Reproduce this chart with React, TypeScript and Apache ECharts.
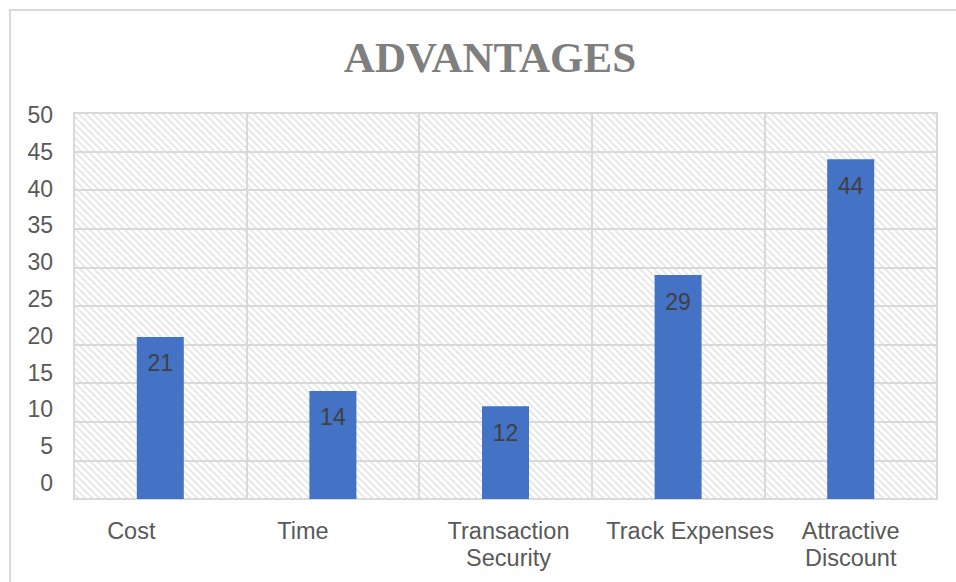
import React, { useEffect, useRef } from "react";
import * as echarts from "echarts";

const titleText = "ADVANTAGES";
const categories = ["Cost", "Time", "Transaction\nSecurity", "Track Expenses", "Attractive\nDiscount"];
const values = [21, 14, 12, 29, 44];
const yMin = 0;
const yMax = 50;
const yStep = 5;
// horizontal label shifts (px, negative = left), style only
const labelShift = [-29, -30, 3, 12, 0];

function makeHatch(): HTMLCanvasElement {
  const c = document.createElement("canvas");
  const s = 7;
  c.width = s;
  c.height = s;
  const ctx = c.getContext("2d")!;
  ctx.fillStyle = "#ffffff";
  ctx.fillRect(0, 0, s, s);
  ctx.strokeStyle = "#e6e6e6";
  ctx.lineWidth = 1.8;
  ctx.beginPath();
  ctx.moveTo(-1, -1);
  ctx.lineTo(s + 1, s + 1);
  ctx.moveTo(-1, s - 1);
  ctx.lineTo(1, s + 1);
  ctx.moveTo(s - 1, -1);
  ctx.lineTo(s + 1, 1);
  ctx.stroke();
  return c;
}

export default function App() {
  const ref = useRef<HTMLDivElement>(null);
  useEffect(() => {
    if (!ref.current) return;
    const chart = echarts.init(ref.current, undefined, { renderer: "svg" });
    const hatch = makeHatch();
    const gridPos = { left: 74, top: 113, width: 863, height: 386 };
    chart.setOption({
      animation: false,
      backgroundColor: "#ffffff",
      graphic: [
        {
          type: "rect",
          shape: { x: 10, y: 10, width: 960, height: 600 },
          style: { fill: "none", stroke: "#d9d9d9", lineWidth: 2 },
          silent: true,
        },
        {
          type: "text",
          x: 490,
          y: 57,
          style: {
            text: titleText,
            fontFamily: "Liberation Serif",
            fontWeight: "bold",
            fontSize: 43,
            fill: "#7f7f7f",
            align: "center",
            verticalAlign: "middle",
          },
        },
      ],
      grid: [
        {
          ...gridPos,
          show: true,
          backgroundColor: { image: hatch, repeat: "repeat" },
          borderColor: "#d9d9d9",
          borderWidth: 2,
        },
        { left: 74, top: 115, width: 863, height: 368, show: false },
      ],
      xAxis: [
        {
          type: "category",
          gridIndex: 0,
          data: categories.map((c, i) => ({
            value: c,
            textStyle: {
              padding: labelShift[i] < 0 ? [0, -2 * labelShift[i], 0, 0] : [0, 0, 0, 2 * labelShift[i]],
            },
          })),
          axisLine: { show: true, lineStyle: { color: "#d9d9d9", width: 2 } },
          axisTick: { show: false },
          splitLine: { show: true, lineStyle: { color: "#d9d9d9", width: 2 } },
          axisLabel: {
            fontFamily: "Liberation Sans",
            fontSize: 23.5,
            color: "#595959",
            margin: 18,
            lineHeight: 27,
            interval: 0,
          },
        },
        {
          type: "category",
          gridIndex: 1,
          data: categories,
          show: false,
        },
      ],
      yAxis: [
        {
          type: "value",
          gridIndex: 0,
          min: yMin,
          max: yMax,
          interval: yStep,
          axisLine: { show: false },
          axisTick: { show: false },
          axisLabel: { show: false },
          splitLine: { show: true, lineStyle: { color: "#d9d9d9", width: 2 } },
        },
        {
          type: "value",
          gridIndex: 1,
          min: yMin,
          max: yMax,
          interval: yStep,
          axisLine: { show: false },
          axisTick: { show: false },
          splitLine: { show: false },
          axisLabel: {
            fontFamily: "Liberation Sans",
            fontSize: 23,
            color: "#595959",
            margin: 21,
          },
        },
      ],
      series: [
        {
          type: "bar",
          xAxisIndex: 0,
          yAxisIndex: 0,
          data: values,
          barWidth: 47,
          itemStyle: { color: "#4472C4" },
          label: {
            show: true,
            position: "insideTop",
            distance: 15,
            fontFamily: "Liberation Sans",
            fontSize: 23,
            color: "#404040",
          },
        },
      ],
    });
    return () => chart.dispose();
  }, []);
  return (
    <div
      ref={ref}
      style={{ position: "fixed", left: 0, top: 0, width: 956, height: 582 }}
    />
  );
}
